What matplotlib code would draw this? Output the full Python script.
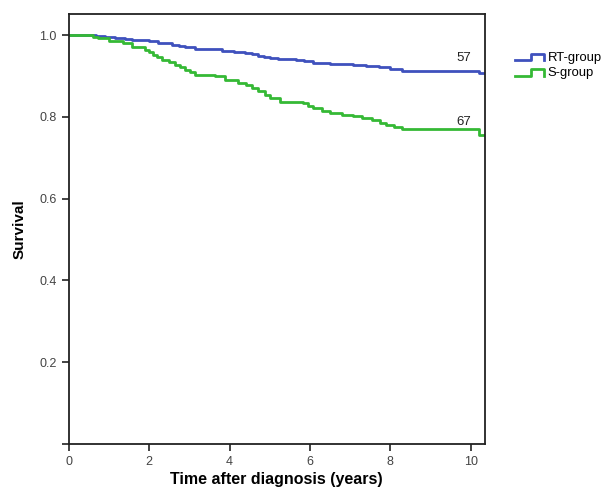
import matplotlib
matplotlib.use("Agg")
import matplotlib.pyplot as plt
from matplotlib.legend_handler import HandlerBase
from matplotlib.lines import Line2D

plt.rcParams['font.family'] = ['Liberation Sans', 'DejaVu Sans']

# Kaplan-Meier style step curves
rt_time = [0, 0.67, 0.9, 1.16, 1.4, 1.58, 1.99, 2.23, 2.57, 2.75, 2.9, 3.14,
           3.5, 3.8, 4.1, 4.38, 4.55, 4.7, 4.85, 5.0, 5.2, 5.66, 5.85, 6.07,
           6.5, 7.06, 7.4, 7.72, 8.0, 8.3, 10.2, 10.35]
rt_surv = [1.0, 0.997, 0.995, 0.993, 0.991, 0.989, 0.985, 0.98, 0.976, 0.973,
           0.971, 0.967, 0.965, 0.962, 0.959, 0.956, 0.953, 0.95, 0.947, 0.943,
           0.941, 0.939, 0.936, 0.932, 0.93, 0.927, 0.924, 0.921, 0.918, 0.913,
           0.907, 0.907]

s_time = [0, 0.42, 0.6, 0.74, 0.99, 1.34, 1.58, 1.9, 2.0, 2.1, 2.2, 2.33, 2.5,
          2.65, 2.78, 2.9, 3.02, 3.14, 3.64, 3.89, 4.21, 4.4, 4.55, 4.7, 4.88,
          5.0, 5.25, 5.82, 5.95, 6.07, 6.3, 6.49, 6.8, 7.06, 7.3, 7.55, 7.75,
          7.89, 8.1, 8.3, 10.2, 10.35]
s_surv = [1.0, 0.999, 0.996, 0.993, 0.986, 0.98, 0.972, 0.964, 0.958, 0.952,
          0.946, 0.94, 0.934, 0.928, 0.921, 0.915, 0.909, 0.903, 0.899, 0.891,
          0.883, 0.877, 0.871, 0.863, 0.854, 0.846, 0.837, 0.833, 0.827, 0.821,
          0.815, 0.809, 0.805, 0.801, 0.797, 0.793, 0.786, 0.78, 0.775, 0.77,
          0.756, 0.756]

group_names = ["RT-group", "S-group"]
at_risk = ["57", "67"]
x_ticks = [0, 2, 4, 6, 8, 10]
y_ticks = [0.0, 0.2, 0.4, 0.6, 0.8, 1.0]
y_ticklabels = ["", "0.2", "0.4", "0.6", "0.8", "1.0"]

blue = "#3f51bd"
green = "#35b935"


class StepHandler(HandlerBase):
    # small step glyph like the SPSS legend
    def create_artists(self, legend, orig_handle, xdescent, ydescent,
                       width, height, fontsize, trans):
        w, h = width, height
        xs = [0, w * 0.55, w * 0.55, w, w]
        ys = [h * 0.1, h * 0.1, h * 0.8, h * 0.8, h * 0.1]
        ln = Line2D(xs, ys, color=orig_handle.get_color(), lw=2,
                    transform=trans)
        return [ln]


fig = plt.figure(figsize=(6.03, 4.90), dpi=100)
ax = fig.add_axes([0.114, 0.094, 0.690, 0.877])

l1, = ax.step(rt_time, rt_surv, where='post', color=blue, lw=2)
l2, = ax.step(s_time, s_surv, where='post', color=green, lw=2)

ax.text(9.83, 0.944, at_risk[0], fontsize=9.5, color="#222222", ha='center', va='center')
ax.text(9.83, 0.788, at_risk[1], fontsize=9.5, color="#222222", ha='center', va='center')

ax.set_xlim(0, 10.35)
ax.set_ylim(0, 1.051)
ax.set_xticks(x_ticks)
ax.set_yticks(y_ticks)
ax.set_yticklabels(y_ticklabels)
ax.tick_params(direction='out', length=5, width=1.2, labelsize=9,
               labelcolor="#444444", color="#222222")
for s in ax.spines.values():
    s.set_linewidth(1.3)
    s.set_color("#222222")

ax.set_xlabel("Time after diagnosis (years)", fontsize=11.5, fontweight='bold', labelpad=3)
ax.set_ylabel("Survival", fontsize=11, fontweight='bold', labelpad=9)

fig.legend([l1, l2], group_names, loc='upper left', bbox_to_anchor=(0.835, 0.918),
           frameon=False, fontsize=9.4, handler_map={Line2D: StepHandler()},
           handlelength=2.2, handletextpad=0.3, labelspacing=0.25)

fig.savefig("out.png", dpi=100)
